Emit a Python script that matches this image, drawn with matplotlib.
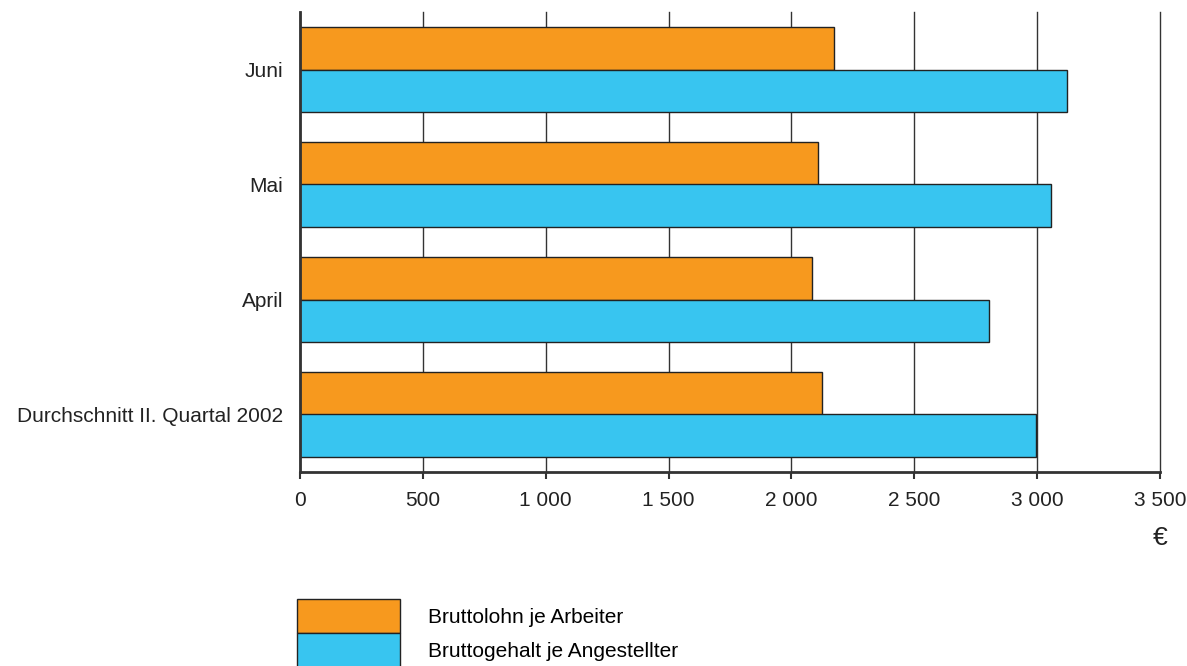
import numpy as np
import matplotlib.pyplot as plt

# Bruttoverdienste II. Quartal 2002 (in Euro)
categories = ["Durchschnitt II. Quartal 2002", "April", "Mai", "Juni"]
arbeiter = [2123, 2082, 2110, 2174]
angestellte = [2994, 2806, 3058, 3123]
series_labels = ["Bruttolohn je Arbeiter", "Bruttogehalt je Angestellter"]
xticks = [0, 500, 1000, 1500, 2000, 2500, 3000, 3500]
xtick_labels = ["0", "500", "1 000", "1 500", "2 000", "2 500", "3 000", "3 500"]

ORANGE = "#F7991E"
BLUE = "#38C5F0"
EDGE = "#222222"
FS = 15

plt.rcParams['font.family'] = ['Liberation Sans', 'DejaVu Sans']

fig = plt.figure(figsize=(11.87, 6.66), dpi=100)
ax = fig.add_axes([300 / 1187, 194 / 666, 860 / 1187, 460 / 666])

y = np.arange(len(categories))
h = 0.371
b1 = ax.barh(y + h / 2, arbeiter, height=h, color=ORANGE, edgecolor=EDGE,
             linewidth=1, label=series_labels[0], zorder=3)
b2 = ax.barh(y - h / 2, angestellte, height=h, color=BLUE, edgecolor=EDGE,
             linewidth=1, label=series_labels[1], zorder=3)

ax.set_xlim(0, 3500)
ax.set_ylim(-0.5, 3.5)
ax.set_xticks(xticks)
ax.set_xticklabels(xtick_labels, fontsize=FS, color="#222222")
ax.set_yticks(y)
ax.set_yticklabels(categories, fontsize=FS, color="#222222")
ax.tick_params(axis='y', length=0, pad=12)
ax.tick_params(axis='x', direction='out', length=5, width=1.5, color="#333333", pad=9)

ax.xaxis.grid(True, color="#333333", linewidth=1)
for gl in ax.get_xgridlines():
    gl.set_clip_on(False)
ax.set_axisbelow(True)
for s in ("top", "right"):
    ax.spines[s].set_visible(False)
for s in ("left", "bottom"):
    ax.spines[s].set_linewidth(2)
    ax.spines[s].set_color("#333333")
    ax.spines[s].set_zorder(4)

fig.text(1160 / 1187, 1 - 538 / 666, "€", fontsize=19, ha="center", va="center", color="#222222")

fig.legend(handles=[b1, b2], labels=series_labels, loc="upper left",
           bbox_to_anchor=(297 / 1187, 1 - 599 / 666), frameon=False,
           fontsize=FS, handlelength=4.94, handleheight=2.17, labelspacing=0,
           handletextpad=1.34, borderpad=0, borderaxespad=0)

fig.savefig("out.png", dpi=100)
